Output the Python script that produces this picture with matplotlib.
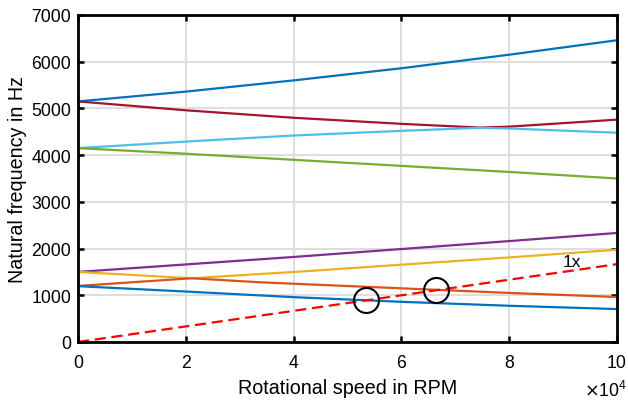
import matplotlib.pyplot as plt
from matplotlib.ticker import FuncFormatter

plt.rcParams["font.family"] = ["Liberation Sans", "DejaVu Sans"]

# Vitesse de rotation (RPM) et fréquences propres (Hz)
rpm = [0, 20000, 40000, 60000, 80000, 100000]
mode_haut = [5150, 5360, 5600, 5860, 6150, 6460]
mode_vert = [4150, 4030, 3900, 3770, 3640, 3500]
mode_violet = [1500, 1660, 1820, 1990, 2160, 2334]
mode_bas = [1195, 1080, 960, 860, 775, 705]

rpm_rouge = [0, 20000, 40000, 60000, 74500, 80000, 100000]
mode_rouge = [5150, 4960, 4800, 4670, 4590, 4610, 4760]
mode_cyan = [4150, 4290, 4420, 4520, 4585, 4570, 4480]

rpm_croise = [0, 21000, 33800, 41000, 60000, 80000, 100000]
mode_jaune = [1500, 1364, 1456, 1505, 1655, 1810, 1975]
mode_orange = [1200, 1364, 1278, 1242, 1149, 1050, 963]

# Droite 1x et points de croisement
rpm_1x = [0, 100000]
freq_1x = [0, 100000 / 60]
croisements_rpm = [53500, 66500]
croisements_freq = [892, 1108]

fig = plt.figure(figsize=(6.28, 4.02), dpi=100)
ax = fig.add_axes([0.1242, 0.1468, 0.8583, 0.8134])

lw = 1.6
ax.plot([0, 0], [0, mode_haut[0]], color="#0072BD", linewidth=lw)
ax.plot(rpm, mode_haut, color="#0072BD", linewidth=lw)
ax.plot(rpm_rouge, mode_rouge, color="#A2142F", linewidth=lw)
ax.plot(rpm_rouge, mode_cyan, color="#4DBEEE", linewidth=lw)
ax.plot(rpm, mode_vert, color="#77AC30", linewidth=lw)
ax.plot(rpm, mode_violet, color="#7E2F8E", linewidth=lw)
ax.plot(rpm_croise, mode_jaune, color="#EDB120", linewidth=lw)
ax.plot(rpm_croise, mode_orange, color="#D95319", linewidth=lw)
ax.plot(rpm, mode_bas, color="#0072BD", linewidth=lw)
ax.plot(rpm_1x, freq_1x, color="red", linestyle=(0, (5, 2.6)), linewidth=lw)
ax.plot(croisements_rpm, croisements_freq, "o", markersize=18,
        markerfacecolor="none", markeredgecolor="black", markeredgewidth=1.5)

ax.text(91560, 1723, "1x", fontsize=12.5, ha="center", va="center")

ax.set_xlim(0, 100000)
ax.set_ylim(0, 7000)
ax.set_xticks([0, 20000, 40000, 60000, 80000, 100000])
ax.set_yticks(range(0, 7001, 1000))
ax.xaxis.set_major_formatter(FuncFormatter(lambda v, p: f"{v / 1e4:g}"))
ax.grid(True, color="#dedede", linewidth=1.4)
ax.set_axisbelow(True)
ax.tick_params(direction="in", length=4.5, width=1.8, top=True, right=True,
               labelsize=12.7)
ax.tick_params(axis="x", pad=9)
ax.tick_params(axis="y", pad=5)
for s in ax.spines.values():
    s.set_linewidth(2.0)

ax.set_xlabel("Rotational speed in RPM", fontsize=14.2, labelpad=5)
ax.set_ylabel("Natural frequency in Hz", fontsize=14.2, labelpad=3)
ax.text(1.0186, -0.166, r"$\times\mathregular{10^{4}}$", transform=ax.transAxes,
        ha="right", va="baseline", fontsize=12.7)

fig.savefig("out.png", dpi=100)
